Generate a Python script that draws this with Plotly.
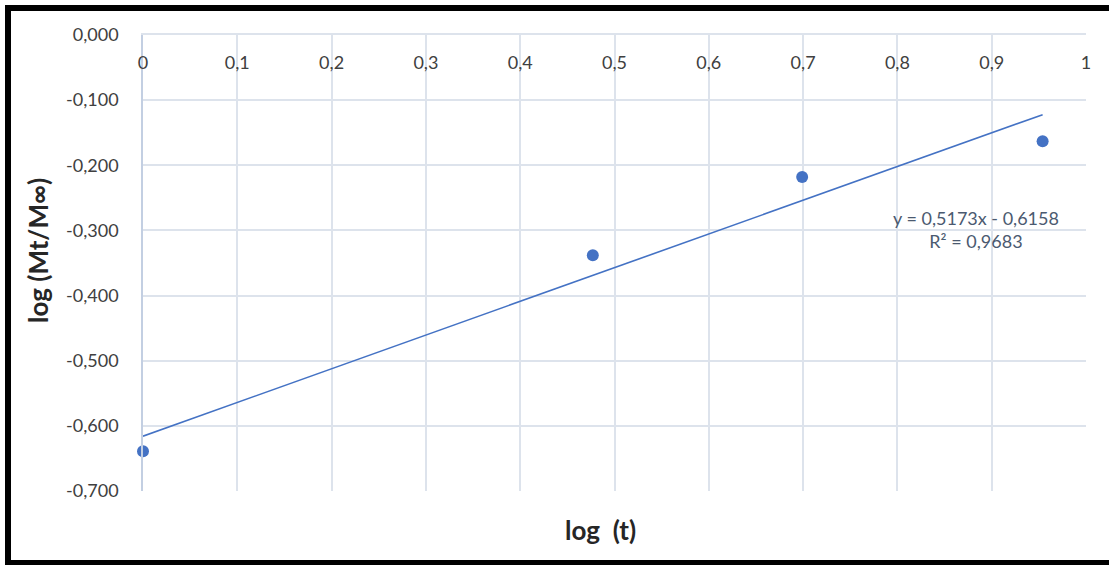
import plotly.graph_objects as go

# ---- data ----
log_t = [0.0, 0.477, 0.699, 0.954]
log_m = [-0.639, -0.338, -0.218, -0.163]
slope = 0.5173
intercept = -0.6158
r_squared = 0.9683

x_tickvals = [0, 0.1, 0.2, 0.3, 0.4, 0.5, 0.6, 0.7, 0.8, 0.9, 1.0]
x_ticktext = ["0", "0,1", "0,2", "0,3", "0,4", "0,5", "0,6", "0,7", "0,8", "0,9", "1"]
y_tickvals = [0, -0.1, -0.2, -0.3, -0.4, -0.5, -0.6, -0.7]
y_ticktext = ["0,000", "-0,100", "-0,200", "-0,300", "-0,400", "-0,500", "-0,600", "-0,700"]

# ---- layout geometry (pixels) ----
W, H = 1109, 565
L, R, T, B = 143, 1086, 35, 491


def px_x(px):
    return (px - L) / (R - L)


def px_y(py):
    return 1 - (py - T) / (B - T)


BLUE = "#4472c4"
GRID = "#dde3ec"
FONT = "Lato"

trend_x = [min(log_t), max(log_t)]
trend_y = [slope * v + intercept for v in trend_x]

fig = go.Figure()
fig.add_trace(go.Scatter(x=trend_x, y=trend_y, mode="lines",
                         line=dict(color=BLUE, width=1.6), showlegend=False,
                         hoverinfo="skip"))
fig.add_trace(go.Scatter(x=log_t, y=log_m, mode="markers",
                         marker=dict(color=BLUE, size=12), showlegend=False,
                         cliponaxis=False))

fig.update_layout(
    width=W, height=H,
    margin=dict(l=L, r=W - R, t=T, b=H - B),
    paper_bgcolor="white", plot_bgcolor="white",
    font=dict(family=FONT, size=18, color="#404040"),
    xaxis=dict(range=[0, 1], side="top", tickvals=x_tickvals, ticktext=x_ticktext,
               ticklabelposition="inside", ticklabeloverflow="allow",
               ticklabelstandoff=22,
               showgrid=True, gridcolor=GRID, gridwidth=1.5,
               showline=True, linecolor=GRID, linewidth=1.5,
               zeroline=False, ticks="", mirror=False,
               tickfont=dict(family=FONT, size=18, color="#404040")),
    yaxis=dict(range=[-0.7, 0], tickvals=y_tickvals, ticktext=y_ticktext,
               showgrid=True, gridcolor=GRID, gridwidth=1.5,
               showline=True, linecolor="#c3cfe2", linewidth=1.5,
               zeroline=False, ticks="", ticklabelstandoff=19,
               tickfont=dict(family=FONT, size=18, color="#404040")),
    shapes=[
        dict(type="rect", xref="paper", yref="paper",
             x0=px_x(8), x1=px_x(1130), y0=px_y(563), y1=px_y(8),
             line=dict(color="black", width=6), fillcolor="rgba(0,0,0,0)",
             layer="above"),
    ],
    annotations=[
        dict(text="<b>log  (t)</b>", xref="paper", yref="paper",
             x=px_x(600), y=px_y(530), showarrow=False,
             font=dict(family=FONT, size=26, color="#262626"),
             xanchor="center", yanchor="middle"),
        dict(text="<b>log (Mt/M∞)</b>", xref="paper", yref="paper",
             x=px_x(38), y=px_y(251), showarrow=False, textangle=-90,
             font=dict(family=FONT, size=26, color="#262626"),
             xanchor="center", yanchor="middle"),
        dict(text=f"y = {str(slope).replace('.', ',')}x - {str(abs(intercept)).replace('.', ',')}"
                  f"<br>R² = {str(r_squared).replace('.', ',')}",
             xref="paper", yref="paper",
             x=px_x(976), y=px_y(229), showarrow=False,
             font=dict(family=FONT, size=18, color="#4b5a70"),
             xanchor="center", yanchor="middle", align="center"),
    ],
)

fig.write_html("out.html",
               config={"displayModeBar": False},
               post_script="document.body.style.margin='0px';document.body.style.overflow='hidden';")
